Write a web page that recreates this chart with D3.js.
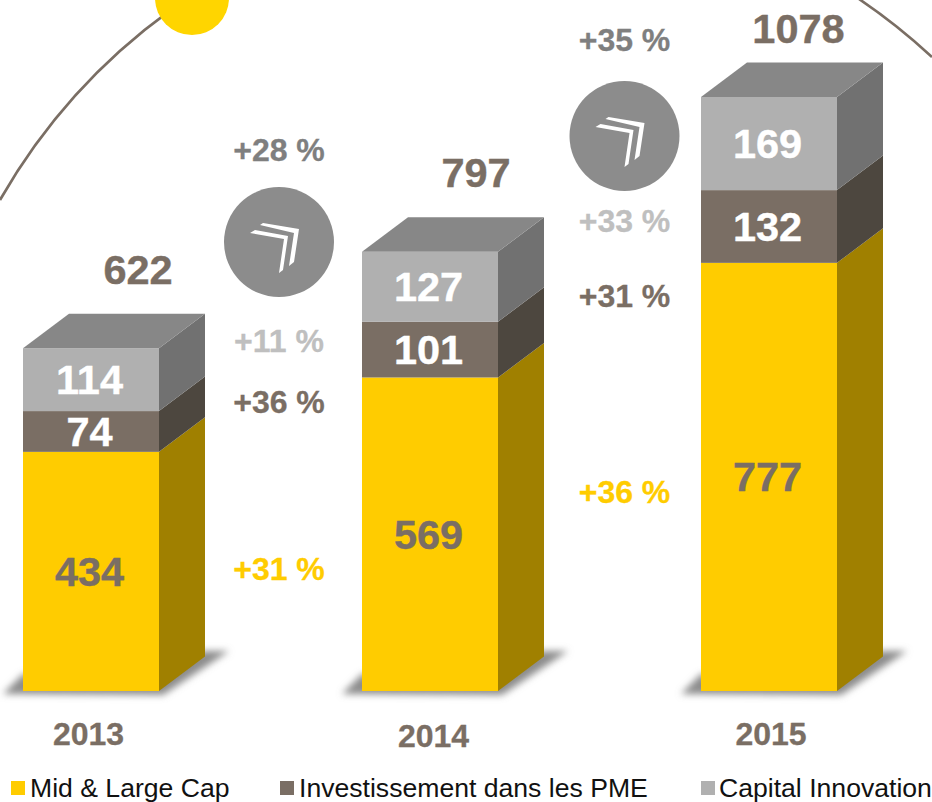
<!DOCTYPE html>
<meta http-equiv="content-type" content="text/html; charset=utf-8">
<style>
html, body { margin: 0; padding: 0; background: #fff; }
svg { display: block; }
text { font-family: "Liberation Sans", Arial, sans-serif; }
.big { font-size: 41.5px; font-weight: bold; text-anchor: middle; dominant-baseline: central; stroke-width: 0.4; }
.pct { font-size: 32px; font-weight: bold; text-anchor: middle; dominant-baseline: central; stroke-width: 0.3; }
.leg { font-size: 26.6px; fill: #111; }
</style>
<body>
<div id="chart"></div>
<script src="https://d3js.org/d3.v7.min.js"></script>
<script>
var years = ["2013", "2014", "2015"];
var series = ["Mid & Large Cap", "Investissement dans les PME", "Capital Innovation"];
var midLarge = [434, 569, 777];
var pme = [74, 101, 132];
var innovation = [114, 127, 169];
var totals = [622, 797, 1078];
var totalGrowth = ["+28 %", "+35 %"];
var innovationGrowth = ["+11 %", "+33 %"];
var pmeGrowth = ["+36 %", "+31 %"];
var midLargeGrowth = ["+31 %", "+36 %"];

var width = 932, height = 802;
var baseY = 691, depthX = 46, depthY = -34.5;

var front = ["#ffcc00", "#7a6e64", "#b0b0b0"];
var side = ["#a08000", "#4d473f", "#717171"];
var labelFill = ["#7a6e64", "#fff", "#fff"];

var svg = d3.select("#chart").append("svg")
    .attr("width", width)
    .attr("height", height);

var defs = svg.append("defs");
defs.append("filter").attr("id", "blur")
    .attr("x", "-20%").attr("y", "-50%").attr("width", "140%").attr("height", "200%")
  .append("feGaussianBlur").attr("stdDeviation", 3.5);

var x = d3.scalePoint().domain(years).range([23, 701]);
var barW = 136;
var y = d3.scaleLinear().domain([0, 1078]).range([baseY, 97]);

var rows = years.map(function(d, i) {
  return { year: d, mid: midLarge[i], pme: pme[i], inno: innovation[i] };
});
var stacked = d3.stack().keys(["mid", "pme", "inno"])(rows);

// big arc behind the bars
var arcPath = d3.path();
arcPath.arc(522.7, 498.2, 601.8, Math.atan2(200 - 498.2, 0 - 522.7), Math.atan2(57 - 498.2, 932 - 522.7));
svg.append("path")
    .attr("d", arcPath.toString())
    .attr("fill", "none")
    .attr("stroke", "#7a6e64")
    .attr("stroke-width", 2.6);

svg.append("circle").attr("cx", 192).attr("cy", -2).attr("r", 37).attr("fill", "#ffd500");

// shadow on the floor
svg.selectAll(".shadow").data(years).enter().append("polygon")
    .attr("class", "shadow")
    .attr("points", function(d) {
      var a = x(d);
      return [[a - 20, 694], [a, 674], [a + barW, 672], [a + barW + depthX - 2, 651], [a + barW + depthX + 24, 651], [a + barW + 4, 695]].join(" ");
    })
    .attr("fill", "#8c8c8c")
    .attr("filter", "url(#blur)");

function sidePoints(d, i) {
  var a = x(d.data.year) + barW;
  return [[a, y(d[0])], [a + depthX, y(d[0]) + depthY], [a + depthX, y(d[1]) + depthY], [a, y(d[1])]].join(" ");
}

var layers = svg.selectAll(".layer").data(stacked).enter().append("g").attr("class", "layer");

layers.each(function(s, k) {
  var g = d3.select(this);
  g.selectAll(".side").data(s).enter().append("polygon")
      .attr("class", "side")
      .attr("points", sidePoints)
      .attr("fill", side[k]);
  g.selectAll(".front").data(s).enter().append("rect")
      .attr("class", "front")
      .attr("x", function(d) { return x(d.data.year); })
      .attr("y", function(d) { return y(d[1]); })
      .attr("width", barW)
      .attr("height", function(d) { return y(d[0]) - y(d[1]); })
      .attr("fill", front[k]);
});

// top faces
svg.selectAll(".top").data(stacked[2]).enter().append("polygon")
    .attr("class", "top")
    .attr("points", function(d) {
      var a = x(d.data.year), t = y(d[1]);
      return [[a, t], [a + depthX, t + depthY], [a + barW + depthX, t + depthY], [a + barW, t]].join(" ");
    })
    .attr("fill", "#878787");

layers.each(function(s, k) {
  d3.select(this).selectAll(".val").data(s).enter().append("text")
      .attr("class", "big val")
      .attr("x", function(d) { return x(d.data.year) + 66.5; })
      .attr("y", function(d) { return (y(d[0]) + y(d[1])) / 2; })
      .attr("fill", labelFill[k])
      .attr("stroke", labelFill[k])
      .text(function(d) { return d[1] - d[0]; });
});

// totals, nudged by hand as in the original slide
var totalX = [138, 476, 798.5], totalY = [269, 172, 28];
svg.selectAll(".total").data(totals).enter().append("text")
    .attr("class", "big total")
    .attr("x", function(d, i) { return totalX[i]; })
    .attr("y", function(d, i) { return totalY[i]; })
    .attr("fill", "#7a6e64")
    .attr("stroke", "#7a6e64")
    .text(function(d) { return d; });

var yearX = [88.5, 433.5, 771], yearY = [734, 736, 734];
svg.selectAll(".year").data(years).enter().append("text")
    .attr("class", "pct year")
    .attr("x", function(d, i) { return yearX[i]; })
    .attr("y", function(d, i) { return yearY[i]; })
    .attr("fill", "#7a6e64")
    .attr("stroke", "#7a6e64")
    .text(function(d) { return d; });

// growth columns between the bars
var colX = [279, 624.5];
var growthRows = [
  { labels: totalGrowth, ys: [150, 40], fill: "#7f7f7f" },
  { labels: innovationGrowth, ys: [341, 221], fill: "#bfbfbf" },
  { labels: pmeGrowth, ys: [402, 296], fill: "#7a6e64" },
  { labels: midLargeGrowth, ys: [569, 492], fill: "#ffcc00" }
];
growthRows.forEach(function(r) {
  svg.selectAll(null).data(r.labels).enter().append("text")
      .attr("class", "pct")
      .attr("x", function(d, i) { return colX[i]; })
      .attr("y", function(d, i) { return r.ys[i]; })
      .attr("fill", r.fill)
      .attr("stroke", r.fill)
      .text(function(d) { return d; });
});

// arrow badges
var badgeY = [242, 136];
var badges = svg.selectAll(".badge").data(colX).enter().append("g")
    .attr("class", "badge")
    .attr("transform", function(d, i) { return "translate(" + d + "," + badgeY[i] + ")"; });
badges.append("circle").attr("r", 55).attr("fill", "#8c8c8c");
badges.append("polygon")
    .attr("points", "-29,-9 -24,-12 9,-6 4,28 0,31 5,-3")
    .attr("fill", "#fff");
badges.append("polygon")
    .attr("points", "-19,-17 -16,-19 20,-13 15,20 10,24 15,-9")
    .attr("fill", "#fff");

// legend
var swatchX = [11, 280, 701], textX = [30, 299, 719];
var legend = svg.selectAll(".legend").data(series).enter().append("g").attr("class", "legend");
legend.append("rect")
    .attr("x", function(d, i) { return swatchX[i]; })
    .attr("y", 781)
    .attr("width", 14)
    .attr("height", 14)
    .attr("fill", function(d, i) { return front[i]; });
legend.append("text")
    .attr("class", "leg")
    .attr("x", function(d, i) { return textX[i]; })
    .attr("y", 797)
    .text(function(d) { return d; });
</script>
</body>
</html>
